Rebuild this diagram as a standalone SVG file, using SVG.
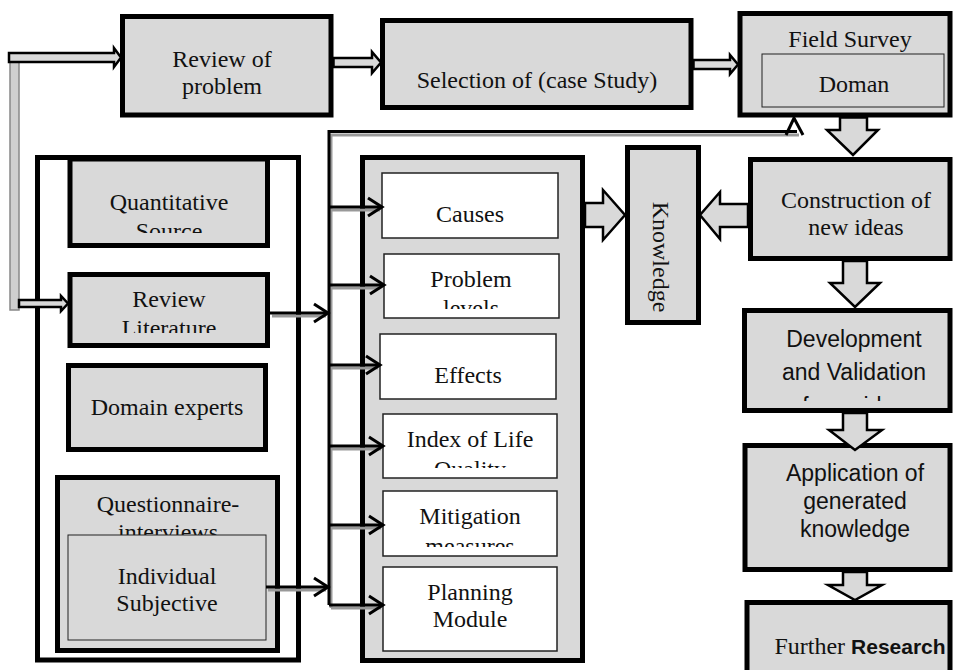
<svg xmlns="http://www.w3.org/2000/svg" width="954" height="670" viewBox="0 0 954 670">
<style>
.box{fill:#d9d9d9;stroke:#000;stroke-width:5}
.wbox{fill:#fff;stroke:#222;stroke-width:1.5}
.thin{fill:#d9d9d9;stroke:#222;stroke-width:1}
.t{font-family:"Liberation Serif","Times New Roman",serif;font-size:24px;fill:#111;text-anchor:middle}
.s{font-family:"Liberation Sans",Arial,sans-serif;font-size:23px;fill:#111;text-anchor:middle}
.blk{fill:#d9d9d9;stroke:#000;stroke-width:2.5;stroke-linejoin:miter}
.ln{fill:none;stroke:#000;stroke-width:3}
.sh{fill:none;stroke:#999;stroke-width:3}
</style>
<defs>
<clipPath id="cQ"><rect x="72" y="161" width="193" height="72"/></clipPath>
<clipPath id="cRL"><rect x="72" y="277" width="193" height="56"/></clipPath>
<clipPath id="cPL"><rect x="385" y="255" width="172" height="54"/></clipPath>
<clipPath id="cIdx"><rect x="385" y="415" width="172" height="53"/></clipPath>
<clipPath id="cMit"><rect x="385" y="492" width="172" height="55"/></clipPath>
<clipPath id="cDev"><rect x="747" y="313" width="200" height="88"/></clipPath>
</defs>

<g id="review-problem">
<rect class="box" x="122.5" y="16.5" width="208.5" height="98.5"/>
<text class="t" font-size="25" x="222" y="67">Review of</text>
<text class="t" font-size="25" x="222" y="94">problem</text>
</g>
<g id="selection">
<rect class="box" x="382.5" y="20.5" width="308.5" height="87"/>
<text class="t" x="537" y="88">Selection of (case Study)</text>
</g>
<g id="field-survey">
<rect class="box" x="740" y="13.5" width="210" height="101.5"/>
<text class="t" x="850" y="47">Field Survey</text>
<rect class="thin" x="762" y="54" width="182" height="53"/>
<text class="t" x="854" y="92">Doman</text>
</g>

<g id="sources">
<rect fill="#fff" stroke="#000" stroke-width="5" x="37.5" y="157.5" width="261" height="502.5"/>
</g>
<g id="quantitative">
<rect class="box" x="70" y="159" width="197.5" height="86.5"/>
<g clip-path="url(#cQ)">
<text class="t" x="169" y="210">Quantitative</text>
<text class="t" x="169" y="239">Source</text>
</g>
</g>
<g id="review-literature">
<rect class="box" x="70" y="274.5" width="197.5" height="71"/>
<g clip-path="url(#cRL)">
<text class="t" x="169" y="307">Review</text>
<text class="t" x="169" y="336">Literature</text>
</g>
</g>
<g id="domain-experts">
<rect class="box" x="68.5" y="365.5" width="197" height="84"/>
<text class="t" x="167" y="415">Domain experts</text>
</g>
<g id="questionnaire">
<rect class="box" x="57.5" y="477.5" width="220" height="173"/>
<text class="t" x="168" y="512">Questionnaire-</text>
<text class="t" x="168" y="540">interviews</text>
<rect class="thin" x="68" y="535" width="198" height="105"/>
<text class="t" x="167" y="584">Individual</text>
<text class="t" x="167" y="611">Subjective</text>
</g>

<g id="outcomes">
<rect class="box" x="362.5" y="157.5" width="220" height="503"/>
</g>
<g id="causes">
<rect class="wbox" x="382" y="173" width="176" height="65"/>
<text class="t" x="470" y="222">Causes</text>
</g>
<g id="problem-levels">
<rect class="wbox" x="384" y="254" width="175" height="64"/>
<g clip-path="url(#cPL)">
<text class="t" x="471" y="287">Problem</text>
<text class="t" x="471" y="316">levels</text>
</g>
</g>
<g id="effects">
<rect class="wbox" x="380" y="334" width="176" height="65"/>
<text class="t" x="468" y="383">Effects</text>
</g>
<g id="index">
<rect class="wbox" x="383" y="414" width="174" height="64"/>
<g clip-path="url(#cIdx)">
<text class="t" x="470" y="447">Index of Life</text>
<text class="t" x="470" y="477">Quality</text>
</g>
</g>
<g id="mitigation">
<rect class="wbox" x="383" y="491" width="174" height="65"/>
<g clip-path="url(#cMit)">
<text class="t" x="470" y="524">Mitigation</text>
<text class="t" x="470" y="554">measures</text>
</g>
</g>
<g id="planning">
<rect class="wbox" x="383" y="567" width="174" height="84"/>
<text class="t" x="470" y="600">Planning</text>
<text class="t" x="470" y="627">Module</text>
</g>

<g id="knowledge">
<rect class="box" x="627.5" y="147.5" width="71" height="175"/>
<text class="t" transform="translate(653,257) rotate(90)" x="0" y="0">Knowledge</text>
</g>
<g id="construction">
<rect class="box" x="750.5" y="159.5" width="199.5" height="99"/>
<text class="t" x="856" y="208">Construction of</text>
<text class="t" x="856" y="235">new ideas</text>
</g>
<g id="development">
<rect class="box" x="744.5" y="310.5" width="205.5" height="100"/>
<g clip-path="url(#cDev)">
<text class="s" font-size="25" x="854" y="347">Development</text>
<text class="s" font-size="25" x="854" y="380">and Validation</text>
<text class="s" font-size="25" x="854" y="414">of new ideas</text>
</g>
</g>
<g id="application">
<rect class="box" x="745" y="445.5" width="205" height="124"/>
<text class="s" x="855" y="481">Application of</text>
<text class="s" x="855" y="509">generated</text>
<text class="s" x="855" y="537">knowledge</text>
</g>
<g id="further-research">
<rect class="box" x="747" y="602.5" width="203" height="90"/>
<text class="t" x="860" y="654">Further <tspan font-family="Liberation Sans, Arial, sans-serif" font-weight="bold" font-size="21">Research</tspan></text>
</g>

<g id="connectors">
<rect x="10" y="57" width="9" height="253" fill="#cfcfcf" stroke="#888" stroke-width="1.5"/>
<polygon class="blk" stroke-width="2" points="9,53 114,53 114,48 121,57.5 114,67 114,62 9,62"/>
<polygon class="blk" stroke-width="2" points="19,300 61,300 61,296 68,303.5 61,311 61,307 19,307"/>
<polygon class="blk" stroke-width="2" points="333.5,58 372,58 372,52 381,62.5 372,73 372,67 333.5,67"/>
<polygon class="blk" stroke-width="2" points="693.5,60 730,60 730,55 738,64.5 730,74 730,69 693.5,69"/>

<path class="sh" d="M331,608 V135 H799"/>
<path class="ln" d="M329,605 V131.5 H797"/>
<polyline class="ln" stroke-width="2.5" points="786,135 794,118 803,135"/>

<path class="sh" d="M331,210 H380 M331,288 H380 M331,368 H378 M331,449 H381 M331,528 H381 M331,608 H381 M272,316 H326 M268,590 H326"/>
<path class="ln" stroke-width="2.5" d="M329,207 H381 M329,285 H383 M329,365 H379 M329,446 H382 M329,525 H382 M329,605 H382 M270,313 H327 M266,587 H327"/>
<g class="ln" stroke-width="2.5">
<polyline points="368,198 382,207 368,216"/>
<polyline points="370,276 384,285 370,294"/>
<polyline points="366,356 380,365 366,374"/>
<polyline points="369,437 383,446 369,455"/>
<polyline points="369,516 383,525 369,534"/>
<polyline points="369,596 383,605 369,614"/>
<polyline points="314,304 328,313 314,322"/>
<polyline points="314,578 328,587 314,596"/>
</g>

<polygon class="blk" points="585,203 603,203 603,190 625,215 603,240 603,227 585,227"/>
<polygon class="blk" points="748,204 720,204 720,192 700,215 720,239 720,227 748,227"/>
<polygon class="blk" points="840,117.5 867,117.5 867,130 878,130 853,155 827,130 840,130"/>
<polygon class="blk" points="843,261 867,261 867,283 880,283 855,307 830,283 843,283"/>
<polygon class="blk" points="843,413 867,413 867,430 882,430 855,450 829,430 843,430"/>
<polygon class="blk" points="843,572 867,572 867,585 882,585 855,600 828,585 843,585"/>
</g>
</svg>
